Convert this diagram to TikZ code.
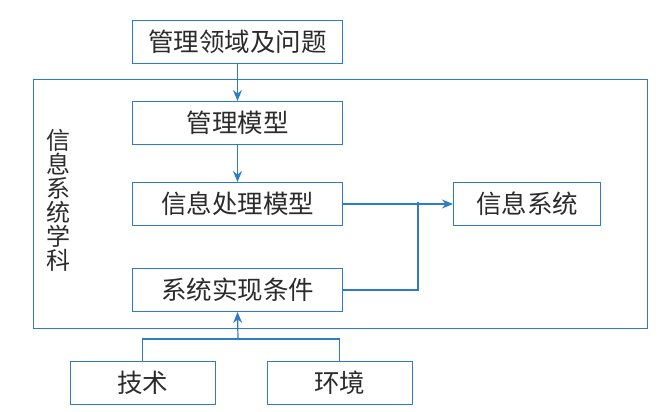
\documentclass[tikz,border=0pt]{standalone}
\usepackage{fontspec}
\setmainfont{Noto Sans CJK SC}
\usepackage{xcolor}
\usepackage{tikz}
\usetikzlibrary{arrows.meta,positioning}
\definecolor{misblue}{HTML}{2E7CC6}
\definecolor{mistext}{HTML}{2B2B2B}

\begin{document}
\begin{tikzpicture}[x=1pt,y=-1pt,node distance=37pt and 110pt,>={Stealth[length=11pt,width=9pt]},
    box/.style={draw=misblue,line width=1pt,minimum width=210pt,minimum height=43pt,text=mistext,
        font=\fontsize{25.5}{28}\selectfont,inner sep=0pt},
    link/.style={misblue,line width=1.2pt}]
    \useasboundingbox (0,0) rectangle (665,412);

    \node[draw=misblue,line width=1pt,minimum width=614pt,minimum height=248pt,inner sep=0pt] (frame) at (340,204) {};
    \node[text=mistext,font=\fontsize{24}{24}\selectfont,align=center,inner sep=0pt] (field) at (58,200) {信\\息\\系\\统\\学\\科};

    \node[box] (domain) at (237.5,42) {管理领域及问题};
    \node[box,below=of domain] (mgmt) {管理模型};
    \node[box,below=of mgmt] (proc) {信息处理模型};
    \node[box,below=42pt of proc] (impl) {系统实现条件};
    \node[box,right=of proc,minimum width=147pt] (infosys) {信息系统};
    \node[box,minimum width=145pt] (tech) at (142.5,382.5) {技术};
    \node[box,right=51pt of tech,minimum width=145pt] (env) {环境};

    \coordinate (joint) at (418,201.5);
    \coordinate (split) at (238,339);

    \draw[link,->] (domain) -- (mgmt);
    \draw[link,->] (mgmt) -- (proc);
    \draw[link,->] (proc) -- (infosys);
    \draw[link] (impl.east) -| (joint);
    \draw[link] (tech.north) |- (split) -| (env.north);
    \draw[link,->] (split) -- (impl.south);
\end{tikzpicture}
\end{document}
